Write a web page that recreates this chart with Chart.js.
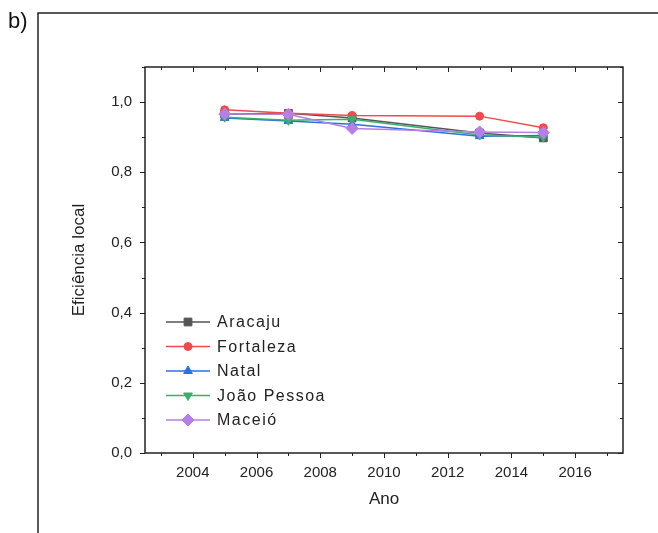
<!DOCTYPE html>
<html>
<head>
<meta charset="utf-8">
<script src="https://cdn.jsdelivr.net/npm/chart.js@4"></script>
<style>
  body { margin: 0; background: #fff; }
  #wrap { position: relative; width: 658px; height: 533px; }
  #tag { position: absolute; left: 8px; top: 8px; font: 22px "Liberation Sans", Arial, sans-serif; color: #111; }
</style>
</head>
<body>
<div id="wrap">
  <canvas id="chart" width="658" height="533"></canvas>
  <div id="tag">b)</div>
</div>
<script>
  const years = [2005, 2007, 2009, 2013, 2015];
  const cities = ['Aracaju', 'Fortaleza', 'Natal', 'João Pessoa', 'Maceió'];
  const aracaju = [0.965, 0.968, 0.955, 0.912, 0.898];
  const fortaleza = [0.978, 0.968, 0.962, 0.960, 0.927];
  const natal = [0.955, 0.946, 0.937, 0.903, 0.905];
  const joaoPessoa = [0.957, 0.948, 0.951, 0.906, 0.900];
  const maceio = [0.966, 0.965, 0.925, 0.915, 0.913];
  const xTicks = [2004, 2006, 2008, 2010, 2012, 2014, 2016];
  const yTicks = [0, 0.2, 0.4, 0.6, 0.8, 1.0];

  const seriesValues = [aracaju, fortaleza, natal, joaoPessoa, maceio];
  const colors = ['#555555', '#f04a4c', '#2c6fe0', '#3bae6c', '#b47fe6'];
  const markers = [
    { style: 'rect', radius: 5.5, rotation: 0 },
    { style: 'circle', radius: 4, rotation: 0 },
    { style: 'triangle', radius: 5, rotation: 0 },
    { style: 'triangle', radius: 5, rotation: 180 },
    { style: 'rectRot', radius: 6, rotation: 0 }
  ];
  const FONT = '"Liberation Sans", Arial, sans-serif';

  const datasets = cities.map((name, i) => ({
    label: name,
    data: years.map((y, k) => ({ x: y, y: seriesValues[i][k] })),
    borderColor: colors[i],
    backgroundColor: colors[i],
    borderWidth: 1.5,
    pointStyle: markers[i].style,
    pointRadius: markers[i].radius,
    pointRotation: markers[i].rotation,
    pointBorderWidth: 1,
    order: cities.length - i
  }));

  // outer frame, plot box, minor/major ticks and legend
  const decor = {
    id: 'decor',
    beforeDraw(chart) {
      const ctx = chart.ctx;
      ctx.save();
      ctx.strokeStyle = '#222';
      ctx.lineWidth = 1.5;
      ctx.beginPath();
      ctx.moveTo(38, 533);
      ctx.lineTo(38, 13);
      ctx.lineTo(658, 13);
      ctx.stroke();
      ctx.restore();
    },
    afterDraw(chart) {
      const ctx = chart.ctx;
      const a = chart.chartArea;
      const xs = chart.scales.x, ys = chart.scales.y;
      ctx.save();
      ctx.strokeStyle = '#222';
      ctx.lineWidth = 1.5;
      ctx.strokeRect(a.left, a.top, a.right - a.left, a.bottom - a.top);
      ctx.lineWidth = 1;
      ctx.beginPath();
      for (let yr = 2003; yr <= 2017; yr++) {
        const px = Math.round(xs.getPixelForValue(yr)) + 0.5;
        const len = yr % 2 === 0 ? 5 : 3;
        ctx.moveTo(px, a.bottom); ctx.lineTo(px, a.bottom + len);
        ctx.moveTo(px, a.top); ctx.lineTo(px, a.top + len);
      }
      for (let k = 0; k <= 11; k++) {
        const py = Math.round(ys.getPixelForValue(k / 10)) + 0.5;
        const len = k % 2 === 0 ? 5 : 3;
        ctx.moveTo(a.left, py); ctx.lineTo(a.left - len, py);
        ctx.moveTo(a.right, py); ctx.lineTo(a.right - len, py);
      }
      ctx.stroke();

      // legend
      chart.data.datasets.forEach((ds, i) => {
        const y = 322 + i * 24.5;
        ctx.strokeStyle = ds.borderColor;
        ctx.fillStyle = ds.backgroundColor;
        ctx.lineWidth = 1.5;
        ctx.beginPath();
        ctx.moveTo(166, y); ctx.lineTo(210, y);
        ctx.stroke();
        ctx.lineWidth = 1;
        Chart.helpers.drawPoint(ctx, {
          pointStyle: ds.pointStyle, rotation: ds.pointRotation,
          radius: ds.pointRadius, borderWidth: 1
        }, 188, y);
        ctx.fillStyle = '#222';
        ctx.font = '16px ' + FONT;
        ctx.letterSpacing = '1.5px';
        ctx.textBaseline = 'middle';
        ctx.fillText(ds.label, 217, y + 1);
        ctx.letterSpacing = '0px';
      });
      ctx.restore();
    }
  };

  new Chart(document.getElementById('chart'), {
    type: 'line',
    data: { datasets },
    options: {
      responsive: false,
      animation: false,
      layout: { padding: { left: 0, top: 67, right: 35, bottom: 0 } },
      plugins: { legend: { display: false }, tooltip: { enabled: false } },
      scales: {
        x: {
          type: 'linear',
          min: 2002.5,
          max: 2017.5,
          afterFit: s => { s.height = 80; },
          afterBuildTicks: s => { s.ticks = xTicks.map(v => ({ value: v })); },
          grid: { display: false, drawTicks: false },
          border: { display: false },
          ticks: {
            padding: 11,
            color: '#222',
            font: { family: FONT, size: 15 },
            maxRotation: 0,
            callback: v => String(v)
          },
          title: {
            display: true,
            text: 'Ano',
            color: '#222',
            font: { family: FONT, size: 17 },
            padding: { top: 0, bottom: 23 }
          }
        },
        y: {
          min: 0,
          max: 1.1,
          afterFit: s => { s.width = 145; },
          afterBuildTicks: s => { s.ticks = yTicks.map(v => ({ value: v })); },
          grid: { display: false, drawTicks: false },
          border: { display: false },
          ticks: {
            padding: 13,
            color: '#222',
            font: { family: FONT, size: 15 },
            callback: v => v.toFixed(1).replace('.', ',')
          },
          title: {
            display: true,
            text: 'Eficiência local',
            color: '#222',
            font: { family: FONT, size: 17 },
            padding: { top: 69, bottom: 0 }
          }
        }
      }
    },
    plugins: [decor]
  });
</script>
</body>
</html>
